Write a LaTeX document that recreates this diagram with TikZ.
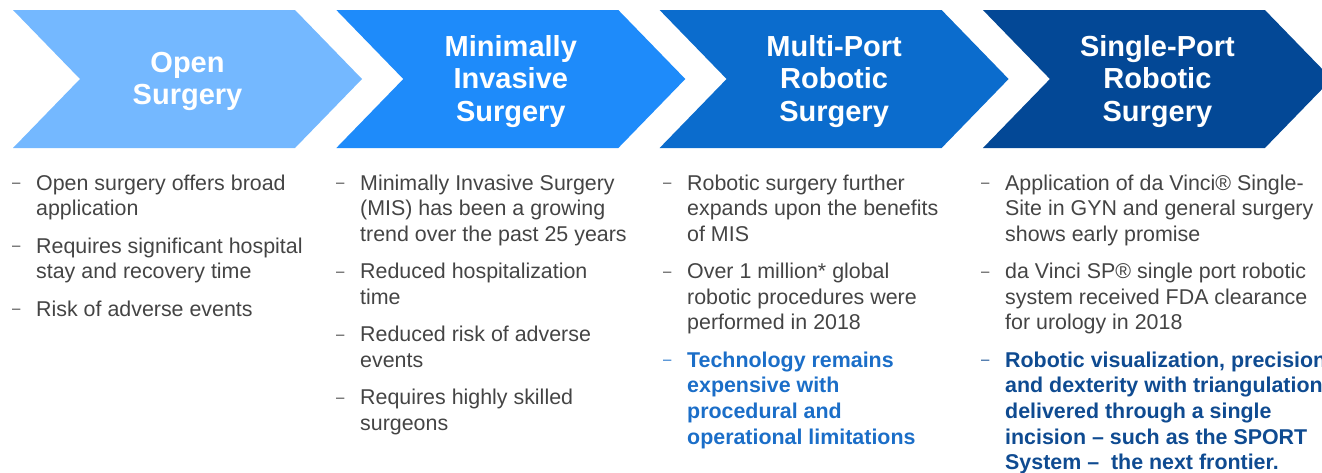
\documentclass[tikz,border=0pt]{standalone}
\usepackage{fontspec}
\setmainfont{Liberation Sans}
\usetikzlibrary{positioning}
\definecolor{openblue}{HTML}{74B8FF}
\definecolor{misblue}{HTML}{1E8BFA}
\definecolor{multiblue}{HTML}{0B6CCD}
\definecolor{singleblue}{HTML}{034896}
\definecolor{bodygray}{HTML}{444444}
\definecolor{techblue}{HTML}{1B6EC8}
\definecolor{navyblue}{HTML}{0F4B91}
\tikzset{
	>=latex,
}
\tikzstyle{title}=[text=white,align=center,inner sep=0pt,font=\fontsize{29}{32.5}\selectfont\bfseries]
\tikzstyle{point}=[anchor=base west,inner sep=0pt,font=\fontsize{21.4}{25.6}\selectfont]
\tikzstyle{keypoint}=[point,font=\fontsize{21.4}{25.6}\selectfont\bfseries]
\newcommand{\entry}[2][bodygray]{\textcolor{#1}{\makebox[24pt][l]{\raisebox{2.5pt}{\fontsize{15}{15}\selectfont\mdseries –}}\parbox[t]{420pt}{\raggedright #2}}}

\begin{document}
\begin{tikzpicture}[x=1pt,y=-1pt]
      \useasboundingbox (0,0) rectangle (1322,472);
      \clip (0,0) rectangle (1322,472);
      % the four chevrons
      \foreach \i/\tone in {0/openblue,1/misblue,2/multiblue,3/singleblue}
        \fill[\tone] ({13+323.3*\i},10) -- ++(282,0) -- ++(67,69) -- ++(-67,69) -- ++(-282,0) -- ++(67,-69) -- cycle;
      \node[title] (open) at (187.5,81.5) {Open\\Surgery};
      \node[title] (mis) at (510.8,81.5) {Minimally\\Invasive\\Surgery};
      \node[title] (multi) at (834.1,81.5) {Multi-Port\\Robotic\\Surgery};
      \node[title] (single) at (1157.4,81.5) {Single-Port\\Robotic\\Surgery};
      % open surgery
      \node[point] (open1) at (12,190) {\entry{Open surgery offers broad\\application}};
      \node[point] (open2) at (12,253) {\entry{Requires significant hospital\\stay and recovery time}};
      \node[point] (open3) at (12,316) {\entry{Risk of adverse events}};
      % minimally invasive
      \node[point] (mis1) at (336,190) {\entry{Minimally Invasive Surgery\\(MIS) has been a growing\\trend over the past 25 years}};
      \node[point] (mis2) at (336,278.6) {\entry{Reduced hospitalization\\time}};
      \node[point] (mis3) at (336,341.6) {\entry{Reduced risk of adverse\\events}};
      \node[point] (mis4) at (336,404.6) {\entry{Requires highly skilled\\surgeons}};
      % multi-port
      \node[point] (multi1) at (663,190) {\entry{Robotic surgery further\\expands upon the benefits\\of MIS}};
      \node[point] (multi2) at (663,278.6) {\entry{Over 1 million* global\\robotic procedures were\\performed in 2018}};
      \node[keypoint] (multi3) at (663,367.2) {\entry[techblue]{Technology remains\\expensive with\\procedural and\\operational limitations}};
      % single-port
      \node[point] (single1) at (981,190) {\entry{Application of da Vinci® Single-\\Site in GYN and general surgery\\shows early promise}};
      \node[point] (single2) at (981,278.6) {\entry{da Vinci SP® single port robotic\\system received FDA clearance\\for urology in 2018}};
      \node[keypoint] (single3) at (981,367.2) {\entry[navyblue]{Robotic visualization, precision\\and dexterity with triangulation\\delivered through a single\\incision – such as the SPORT\\System –\ \ the next frontier.}};
    \end{tikzpicture}
\end{document}
